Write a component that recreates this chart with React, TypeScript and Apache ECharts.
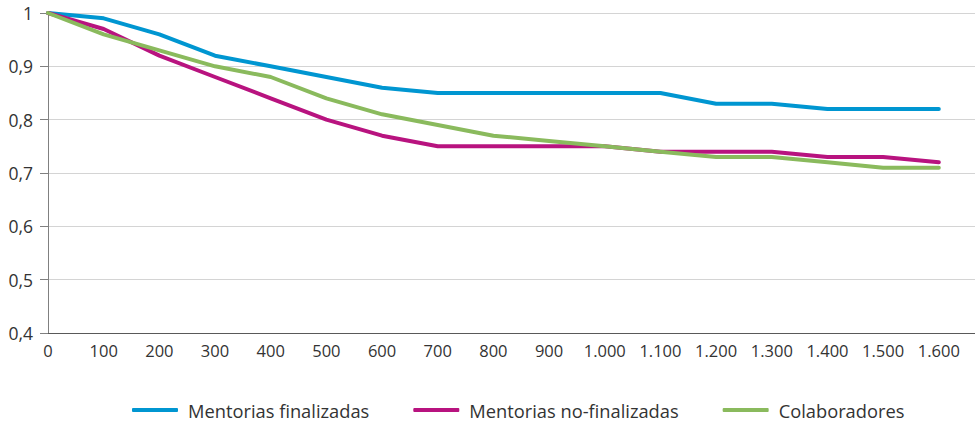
import React, { useEffect, useRef } from "react";
import * as echarts from "echarts";

const xValues = [0, 100, 200, 300, 400, 500, 600, 700, 800, 900, 1000, 1100, 1200, 1300, 1400, 1500, 1600];
const mentoriasFinalizadas = [1, 0.99, 0.96, 0.92, 0.9, 0.88, 0.86, 0.85, 0.85, 0.85, 0.85, 0.85, 0.83, 0.83, 0.82, 0.82, 0.82];
const mentoriasNoFinalizadas = [1, 0.97, 0.92, 0.88, 0.84, 0.8, 0.77, 0.75, 0.75, 0.75, 0.75, 0.74, 0.74, 0.74, 0.73, 0.73, 0.72];
const colaboradores = [1, 0.96, 0.93, 0.9, 0.88, 0.84, 0.81, 0.79, 0.77, 0.76, 0.75, 0.74, 0.73, 0.73, 0.72, 0.71, 0.71];
const seriesNames = ["Mentorias finalizadas", "Mentorias no-finalizadas", "Colaboradores"];
const colors = ["#0096d1", "#b8137f", "#8aba5d"];

const FONT = "'Open Sans', 'Noto Sans', sans-serif";

export default function App() {
  const ref = useRef<HTMLDivElement>(null);
  useEffect(() => {
    if (!ref.current) return;
    document.body.style.margin = "0";
    document.body.style.overflow = "hidden";
    const chart = echarts.init(ref.current, null, { renderer: "svg" });
    const pair = (ys: number[]) => xValues.map((x, i) => [x, ys[i]]);
    const datasets = [mentoriasFinalizadas, mentoriasNoFinalizadas, colaboradores];
    chart.setOption({
      animation: false,
      textStyle: { fontFamily: FONT },
      grid: { left: 48, right: 0, top: 13, bottom: 88 },
      legend: {
        top: 396,
        left: 127,
        icon: "roundRect",
        itemWidth: 46,
        itemHeight: 4,
        itemGap: 44,
        padding: [2, 5],
        textStyle: { fontSize: 18.3, color: "#333", fontFamily: FONT, lineHeight: 24, padding: [0, 0, 0, 5] },
        data: seriesNames,
      },
      xAxis: {
        type: "value",
        min: 0,
        max: 1665,
        interval: 100,
        splitLine: { show: false },
        axisLine: { show: true, lineStyle: { color: "#595959", width: 1 } },
        axisTick: { show: false },
        axisLabel: {
          fontSize: 16.5,
          color: "#333",
          margin: 9,
          showMaxLabel: false,
          formatter: (v: number) =>
            v % 100 === 0 && v <= 1600 ? String(v).replace(/\B(?=(\d{3})+(?!\d))/g, ".") : "",
        },
      },
      yAxis: {
        type: "value",
        min: 0.4,
        max: 1,
        interval: 0.1,
        axisLine: { show: true, lineStyle: { color: "#808080", width: 1 } },
        axisTick: { show: true, length: 8, lineStyle: { color: "#808080" } },
        splitLine: { show: true, lineStyle: { color: "#d4d4d4", width: 1 } },
        axisLabel: {
          fontSize: 17.5,
          color: "#333",
          margin: 15,
          formatter: (v: number) => (Math.abs(v - 1) < 1e-9 ? "1" : v.toFixed(1).replace(".", ",")),
        },
      },
      series: datasets.map((d, i) => ({
        name: seriesNames[i],
        type: "line",
        data: pair(d),
        symbol: "none",
        color: colors[i],
        lineStyle: { width: 4, color: colors[i], cap: "round", join: "round" },
        itemStyle: { color: colors[i] },
      })),
    });
    return () => chart.dispose();
  }, []);
  return <div ref={ref} style={{ width: 975, height: 421 }} />;
}
